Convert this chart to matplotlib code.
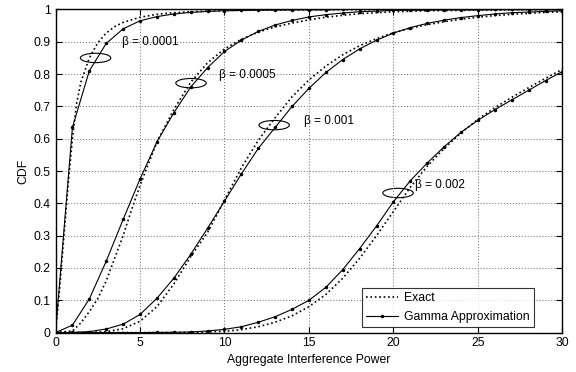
import matplotlib
matplotlib.use("Agg")
import matplotlib.pyplot as plt
from matplotlib.patches import Ellipse
import numpy as np

plt.rcParams['font.family'] = ['Liberation Sans', 'DejaVu Sans']

# gamma approximation, sampled at integer x
x_int = np.arange(0, 31)
gam_a = [0, 0.635, 0.81, 0.895, 0.94, 0.965, 0.978, 0.986, 0.991, 0.994, 0.996,
         0.997, 0.998, 0.998, 0.999, 0.999, 0.999, 1, 1, 1, 1, 1, 1, 1, 1, 1, 1, 1, 1, 1, 1]
gam_b = [0, 0.023, 0.104, 0.221, 0.35, 0.475, 0.59, 0.68, 0.76, 0.82, 0.87,
         0.905, 0.932, 0.952, 0.966, 0.977, 0.984, 0.989, 0.993, 0.995, 0.997,
         0.998, 0.998, 0.999, 0.999, 0.999, 1, 1, 1, 1, 1]
gam_c = [0, 0.0003, 0.003, 0.011, 0.026, 0.056, 0.106, 0.168, 0.242, 0.323, 0.407,
         0.491, 0.570, 0.635, 0.70, 0.756, 0.805, 0.845, 0.878, 0.905, 0.927,
         0.944, 0.957, 0.967, 0.975, 0.981, 0.986, 0.990, 0.992, 0.994, 0.996]
gam_d = [0, 0, 0, 0, 0, 0, 0.0005, 0.001, 0.002, 0.005, 0.01,
         0.018, 0.032, 0.049, 0.072, 0.10, 0.14, 0.195, 0.26, 0.33, 0.405,
         0.47, 0.525, 0.575, 0.62, 0.657, 0.69, 0.72, 0.75, 0.78, 0.808]

# exact CDF
ex_a_x = [0, 0.25, 0.5, 0.75, 1, 1.25, 1.5, 2, 2.5, 3, 3.5, 4, 5, 6, 7, 8, 10, 12, 15, 20, 30]
ex_a = [0, 0.14, 0.3, 0.46, 0.6, 0.71, 0.775, 0.85, 0.897, 0.927, 0.947, 0.96,
        0.976, 0.985, 0.99, 0.993, 0.997, 0.998, 0.999, 1, 1]
ex_b_x = [0, 1, 1.5, 2, 2.5, 3, 3.5, 4, 4.5, 5, 6, 7, 8, 9, 10, 11, 12, 13, 14,
          15, 16, 17, 18, 20, 22, 25, 30]
ex_b = [0, 0.005, 0.03, 0.065, 0.105, 0.16, 0.23, 0.30, 0.38, 0.455, 0.59, 0.69,
        0.775, 0.835, 0.878, 0.908, 0.93, 0.946, 0.958, 0.968, 0.976, 0.982,
        0.987, 0.993, 0.996, 0.998, 1]
ex_c_x = [0] + list(range(2, 31))
ex_c = [0, 0, 0.003, 0.012, 0.035, 0.08, 0.15, 0.235, 0.31, 0.41, 0.51, 0.595,
        0.665, 0.73, 0.782, 0.825, 0.86, 0.888, 0.91, 0.928, 0.942, 0.953, 0.962,
        0.97, 0.976, 0.981, 0.985, 0.988, 0.991, 0.993]
ex_d_x = [0, 8, 9, 10, 11, 12, 13, 14, 15, 16, 17, 18, 19, 20, 21, 22, 23, 24,
          25, 26, 27, 28, 29, 30]
ex_d = [0, 0, 0.002, 0.004, 0.009, 0.018, 0.032, 0.052, 0.08, 0.118, 0.168, 0.23,
        0.30, 0.375, 0.45, 0.515, 0.57, 0.618, 0.66, 0.696, 0.728, 0.758, 0.787, 0.815]

labels = ["\u03b2 = 0.0001", "\u03b2 = 0.0005", "\u03b2 = 0.001", "\u03b2 = 0.002"]
label_pos = [(3.92, 0.90), (9.69, 0.797), (14.7, 0.655), (21.3, 0.457)]
ell_pos = [(2.37, 0.85), (8.02, 0.772), (12.94, 0.642), (20.27, 0.432)]

fig = plt.figure(figsize=(5.76, 3.72), dpi=100)
ax = fig.add_axes([0.0964, 0.106, 0.880, 0.8685])

for ex_x, ex_y in [(ex_a_x, ex_a), (ex_b_x, ex_b), (ex_c_x, ex_c), (ex_d_x, ex_d)]:
    ax.plot(ex_x, ex_y, color='black', linestyle=':', linewidth=1.2)
for g in [gam_a, gam_b, gam_c, gam_d]:
    ax.plot(x_int, g, color='black', linestyle='-', linewidth=0.8,
            marker='.', markersize=3)

for (lx, ly), txt in zip(label_pos, labels):
    ax.text(lx, ly, txt, fontsize=8.5, va='center', ha='left')
for ex, ey in ell_pos:
    ax.add_patch(Ellipse((ex, ey), 1.8, 0.029, fill=False, edgecolor='black', linewidth=0.8))

ax.plot([], [], color='black', linestyle=':', linewidth=1.2, label='Exact')
ax.plot([], [], color='black', linestyle='-', linewidth=0.8, marker='.',
        markersize=3, label='Gamma Approximation')
handles, lbls = ax.get_legend_handles_labels()
leg = ax.legend(handles[-2:], lbls[-2:], loc='lower right',
                bbox_to_anchor=(0.944, 0.016), fontsize=8.8, frameon=True,
                fancybox=False, edgecolor='black', borderaxespad=0,
                handlelength=2.6, handletextpad=0.5, borderpad=0.35, labelspacing=0.55)
leg.get_frame().set_linewidth(0.8)

ax.set_xlim(0, 30)
ax.set_ylim(0, 1)
ax.set_xticks(np.arange(0, 31, 5))
ax.set_yticks(np.arange(0, 1.01, 0.1))
ax.set_yticklabels(["0", "0.1", "0.2", "0.3", "0.4", "0.5", "0.6", "0.7", "0.8", "0.9", "1"])
ax.tick_params(direction='in', top=True, right=True, labelsize=8.8, length=4)
ax.grid(True, linestyle=':', color='gray', linewidth=0.8)
for s in ax.spines.values():
    s.set_linewidth(1.0)
ax.set_xlabel("Aggregate Interference Power", fontsize=8.8, labelpad=3)
ax.set_ylabel("CDF", fontsize=8.8, labelpad=3)

fig.savefig("out.png", dpi=100)
